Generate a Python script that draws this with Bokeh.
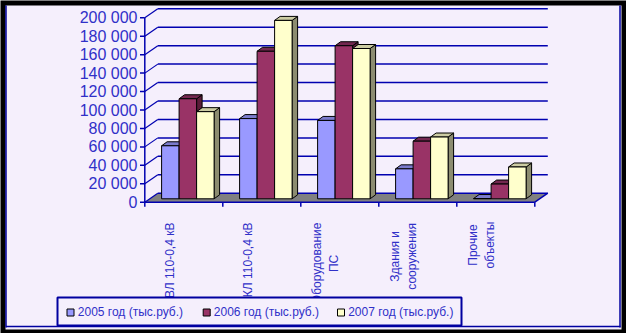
import math
from bokeh.plotting import figure
from bokeh.models import Range1d, ColumnDataSource
from bokeh.core.properties import value
from bokeh.embed import file_html
from bokeh.resources import INLINE

# ---------------- data ----------------
categories = ["ВЛ 110-0,4 кВ", "КЛ 110-0,4 кВ", "Оборудование\nПС",
              "Здания и\nсооружения", "Прочие\nобъекты"]
series_names = ["2005 год (тыс.руб.)", "2006 год (тыс.руб.)", "2007 год (тыс.руб.)"]
values_2005 = [57500, 87000, 85000, 32500, 300]
values_2006 = [108500, 160000, 166000, 62500, 16000]
values_2007 = [94500, 193500, 163000, 67000, 34500]
y_ticks = [0, 20000, 40000, 60000, 80000, 100000, 120000, 140000, 160000, 180000, 200000]
y_tick_labels = ["0", "20 000", "40 000", "60 000", "80 000", "100 000",
                 "120 000", "140 000", "160 000", "180 000", "200 000"]

series_values = [values_2005, values_2006, values_2007]

# ---------------- styles ----------------
FRONT = ["#9999FF", "#993366", "#FFFFCC"]
TOP = ["#7B7BCC", "#732850", "#CCCCA3"]
SIDE = ["#5E5EA0", "#5A1C39", "#8C8C70"]
LAV = "#F5EFFC"
BLUE = "#0000B0"
TXT = "#3030C8"
FONT = value("Liberation Sans")

# ---------------- geometry (pixel <-> data) ----------------
W, H = 626, 333
X0, CW = 144.3, 78.0
Y0, YT = 201.7, 17.3
K = y_ticks[-1] / (Y0 - YT)


def X(px):
    return (px - X0) / CW


def Y(py):
    return (Y0 - py) * K


def dx(px):
    return px / CW


def dy(py):
    return py * K


ncat = len(categories)
DX, DY = dx(13), dy(9)

p = figure(width=W, height=H, x_range=Range1d(X(0), X(W)), y_range=Range1d(Y(H), Y(0)),
           x_axis_type=None, y_axis_type=None, toolbar_location=None,
           output_backend="svg", min_border=0,
           background_fill_color="black", border_fill_color="black",
           outline_line_color=None)

# panel
p.quad(left=X(5), right=X(621), top=Y(5), bottom=Y(329), fill_color=LAV, line_color=None)
p.segment(x0=[X(5.5), X(5.5), X(619.5)], y0=[Y(5), Y(326), Y(5)],
          x1=[X(5.5), X(620), X(619.5)], y1=[Y(327), Y(326), Y(327)],
          line_color="#0000A0", line_width=1.5)

# floor
p.patch([0, DX, ncat + DX, ncat], [0, DY, DY, 0], fill_color="#808080", line_color=None)

# back wall gridlines and left-wall diagonals
p.segment(x0=[DX] * len(y_ticks), y0=[t + DY for t in y_ticks],
          x1=[ncat + DX] * len(y_ticks), y1=[t + DY for t in y_ticks],
          line_color=BLUE, line_width=1.5)
p.segment(x0=[0] * len(y_ticks), y0=y_ticks, x1=[DX] * len(y_ticks),
          y1=[t + DY for t in y_ticks], line_color=BLUE, line_width=1.2)

# axes lines & ticks
p.segment(x0=[0, 0, ncat], y0=[0, 0, 0], x1=[0, ncat, ncat + DX], y1=[y_ticks[-1], 0, DY],
          line_color=BLUE, line_width=1.5)
p.segment(x0=[X(139.5)] * len(y_ticks), y0=y_ticks, x1=[0] * len(y_ticks), y1=y_ticks,
          line_color=BLUE, line_width=1.5)
p.segment(x0=list(range(ncat + 1)), y0=[0] * (ncat + 1), x1=list(range(ncat + 1)),
          y1=[-dy(4.5)] * (ncat + 1), line_color=BLUE, line_width=1.5)

# y tick labels
p.text(x=[X(137)] * len(y_ticks), y=y_ticks, text=y_tick_labels, text_align="right",
       text_baseline="middle", text_font=FONT, text_font_size="16px", text_color=TXT)

# bars
BAR_OFF, BAR_W = dx(16.8), dx(17.5)
BASE, BDX, BDY = dy(3.4), dx(5.5), dy(4)
xs, ys, fc = [], [], []
for i in range(ncat):
    for j, vals in enumerate(series_values):
        x0 = i + BAR_OFF + j * BAR_W
        x1 = x0 + BAR_W
        top = BASE + vals[i]
        xs.append([x1, x1 + BDX, x1 + BDX, x1]); ys.append([BASE, BASE + BDY, top + BDY, top]); fc.append(SIDE[j])
        xs.append([x0, x0 + BDX, x1 + BDX, x1]); ys.append([top, top + BDY, top + BDY, top]); fc.append(TOP[j])
        xs.append([x0, x0, x1, x1]); ys.append([BASE, top, top, BASE]); fc.append(FRONT[j])
p.patches(xs="xs", ys="ys", fill_color="fc", line_color="black", line_width=1,
          source=ColumnDataSource(dict(xs=xs, ys=ys, fc=fc)))

# category labels (rotated)
CH = {" ": 0.278, ",": 0.278, ".": 0.278, "-": 0.333, "ы": 0.72, "ж": 0.72, "т": 0.45,
      "к": 0.45, "г": 0.37, "О": 0.78, "С": 0.72, "В": 0.667, "Л": 0.65, "К": 0.6,
      "П": 0.72, "З": 0.6}


def est_w(s, size):
    return sum(CH.get(c, 0.556) for c in s) * size


LSIZE = 12
lx, ly, lt = [], [], []
for i, cat in enumerate(categories):
    lines = cat.split("\n")
    n = len(lines)
    longest = max(est_w(s, LSIZE) for s in lines)
    cy = Y(221.5 + longest / 2)
    for k, s in enumerate(lines):
        lx.append(i + 0.5 + dx(-14 + (k - (n - 1) / 2) * 17))
        ly.append(cy)
        lt.append(s)
p.text(x=lx, y=ly, text=lt, angle=math.pi / 2, text_align="center", text_baseline="middle",
       text_font=FONT, text_font_size=f"{LSIZE}px", text_color=TXT)

# legend
p.quad(left=X(57), right=X(461), top=Y(297), bottom=Y(325), fill_color=LAV,
       line_color="#0000A0", line_width=2)
mk_x = [X(70), X(206.2), X(340.5)]
tx_x = [X(77.3), X(213.3), X(347.7)]
p.scatter(x=mk_x, y=[Y(312)] * 3, marker="square", size=7, fill_color=FRONT,
          line_color="black", line_width=1)
p.text(x=tx_x, y=[Y(311.5)] * 3, text=series_names, text_align="left", text_baseline="middle",
       text_font=FONT, text_font_size="12px", text_color=TXT)

open("out.html", "w").write(file_html(p, INLINE))
